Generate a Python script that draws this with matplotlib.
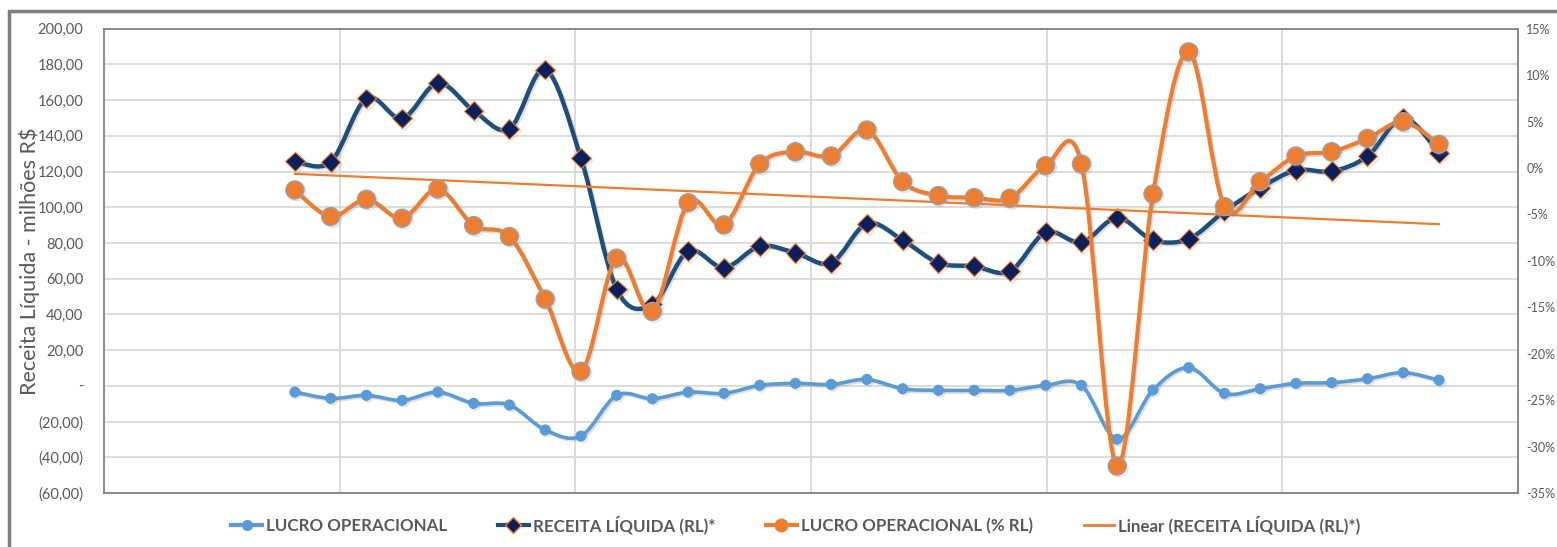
import numpy as np
import matplotlib.pyplot as plt
import matplotlib.patheffects as pe
from matplotlib.path import Path
from matplotlib.patches import PathPatch, Rectangle
from matplotlib.lines import Line2D
from matplotlib.ticker import FuncFormatter

plt.rcParams['font.family'] = ['Lato', 'DejaVu Sans']

# dados (33 períodos)
lucro_operacional = [-3.5, -7.0, -5.3, -8.1, -3.5, -9.8, -10.7, -24.7, -28.1, -5.3, -7.2,
                     -3.5, -4.2, 0.3, 1.4, 0.8, 3.6, -1.6, -2.5, -2.5, -2.5, 0.3,
                     0.3, -29.9, -2.3, 10.2, -4.2, -1.6, 1.4, 1.8, 4.0, 7.4, 3.2]
receita_liquida = [125.7, 125.4, 161.0, 149.8, 169.6, 154.1, 144.0, 177.1, 127.6, 54.0, 45.6,
                   75.4, 66.1, 78.2, 74.5, 68.9, 90.9, 81.6, 68.9, 67.0, 64.2, 86.0,
                   80.4, 94.1, 81.6, 82.3, 97.8, 110.9, 120.7, 120.2, 128.6, 150.0, 130.4]
lucro_pct_rl = [-2.37, -5.23, -3.37, -5.41, -2.26, -6.20, -7.38, -14.12, -21.90, -9.71, -15.45,
                -3.73, -6.13, 0.43, 1.75, 1.29, 4.09, -1.47, -2.97, -3.19, -3.26, 0.25,
                0.43, -32.1, -2.80, 12.5, -4.16, -1.47, 1.29, 1.75, 3.19, 4.98, 2.55]

legend_labels = ['LUCRO OPERACIONAL', 'RECEITA LÍQUIDA (RL)*',
                 'LUCRO OPERACIONAL (% RL)', 'Linear (RECEITA LÍQUIDA (RL)*)']

c_light = '#5B9BD5'
c_dark_line = '#1F4E79'
c_dark_face = '#0B1F5C'
c_orange = '#ED7D31'
c_text = '#595959'


def smooth_path(x, y):
    # curva suave tipo Excel (Catmull-Rom -> Bezier)
    x = np.asarray(x, float)
    y = np.asarray(y, float)
    pts = np.column_stack([x, y])
    ext = np.vstack([pts[0], pts, pts[-1]])
    verts = [pts[0]]
    codes = [Path.MOVETO]
    for i in range(len(pts) - 1):
        p0, p1, p2, p3 = ext[i], ext[i + 1], ext[i + 2], ext[i + 3]
        verts += [p1 + (p2 - p0) / 6, p2 - (p3 - p1) / 6, p2]
        codes += [Path.CURVE4] * 3
    return Path(verts, codes)


shadow = [pe.SimpleLineShadow(offset=(1.2, -1.2), alpha=0.25, shadow_color='gray'), pe.Normal()]

W, H = 1557, 547
fig = plt.figure(figsize=(W / 100, H / 100), dpi=100)
ax = fig.add_axes([104 / W, 1 - 493 / H, (1518 - 104) / W, (493 - 28.7) / H])
ax2 = ax.twinx()

x = np.arange(len(receita_liquida))
xmin, xmax = -5.34, 34.21

# primary axis series
ax.add_patch(PathPatch(smooth_path(x, lucro_operacional), fill=False, edgecolor=c_light,
                       lw=2.6, capstyle='round', joinstyle='round', path_effects=shadow, zorder=3))
ax.plot(x, lucro_operacional, ls='none', marker='o', ms=7, color=c_light, mec=c_light,
        path_effects=shadow, zorder=4)

ax.add_patch(PathPatch(smooth_path(x, receita_liquida), fill=False, edgecolor=c_dark_line,
                       lw=3.2, capstyle='round', joinstyle='round', path_effects=shadow, zorder=5))
ax.plot(x, receita_liquida, ls='none', marker='D', ms=10, mfc=c_dark_face, mec=c_orange,
        mew=0.8, path_effects=shadow, zorder=6)

coef = np.polyfit(x, receita_liquida, 1)
ax.plot(x[[0, -1]], np.polyval(coef, x[[0, -1]]), color=c_orange, lw=1.6, zorder=7)

# secondary axis series
ax2.add_patch(PathPatch(smooth_path(x, lucro_pct_rl), fill=False, edgecolor=c_orange,
                        lw=3.0, capstyle='round', joinstyle='round', path_effects=shadow, zorder=3))
ax2.plot(x, lucro_pct_rl, ls='none', marker='o', ms=13, mfc=c_orange, mec='#A0A0A0',
         mew=1.0, path_effects=shadow, zorder=4)

ax.set_xlim(xmin, xmax)
ax.set_ylim(-60, 200)
ax.set_yticks(np.arange(-60, 201, 20))
ax2.set_ylim(-35, 15)
ax2.set_yticks(np.arange(-35, 16, 5))
ax.set_xticks(np.linspace(xmin, xmax, 7)[1:-1])
ax.set_xticklabels([])


def fmt_left(v, pos):
    if abs(v) < 1e-9:
        return '-'
    s = f'{abs(v):.2f}'.replace('.', ',')
    return f'({s})' if v < 0 else s


ax.yaxis.set_major_formatter(FuncFormatter(fmt_left))
ax2.yaxis.set_major_formatter(FuncFormatter(lambda v, p: f'{v:.0f}%'))

ax.grid(True, color='#D9D9D9', lw=1.3)
ax.set_axisbelow(True)
ax.tick_params(axis='both', length=0, labelsize=10.5, labelcolor=c_text, pad=15)
ax2.tick_params(axis='y', length=0, labelsize=9, labelcolor=c_text, pad=6)
for sp in ax.spines.values():
    sp.set_color('#808080')
    sp.set_linewidth(1.3)
for sp in ax2.spines.values():
    sp.set_visible(False)

ax.set_ylabel('Receita Líquida - milhões R$', fontsize=15.5, color=c_text)
ax.yaxis.set_label_coords((40 - 104) / (1518 - 104), 0.5)

handles = [
    Line2D([], [], color=c_light, lw=3, marker='o', ms=7),
    Line2D([], [], color=c_dark_line, lw=3, marker='D', ms=8, mfc=c_dark_face, mec=c_orange),
    Line2D([], [], color=c_orange, lw=3, marker='o', ms=9, mec=c_orange),
    Line2D([], [], color=c_orange, lw=2),
]
leg = fig.legend(handles, legend_labels, loc='center', bbox_to_anchor=(796 / W, 1 - 525 / H),
                 ncol=4, frameon=False, handlelength=1.8, handletextpad=0.25, columnspacing=3.0,
                 prop={'weight': 'bold', 'size': 12.2})
for t in leg.get_texts():
    t.set_color(c_text)

# moldura externa do gráfico (cortada)
fig.add_artist(Rectangle((9 / W, -0.1), 1.2, 1.1 - 11 / H, transform=fig.transFigure,
                         fill=False, edgecolor='#7F7F7F', lw=2.5, clip_on=False))

fig.savefig('out.png', dpi=100)
